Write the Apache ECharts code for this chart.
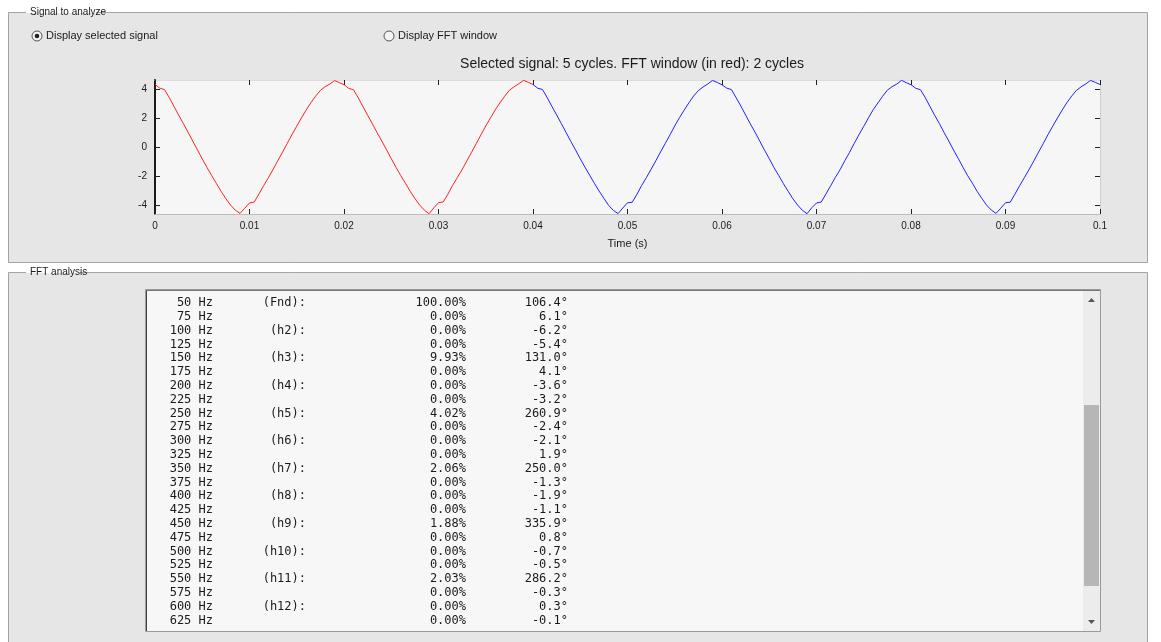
<!DOCTYPE html>
<html>
<head>
<meta charset="utf-8">
<script src="https://cdn.jsdelivr.net/npm/echarts@6/dist/echarts.min.js"></script>
<style>
  html, body { margin: 0; padding: 0; background: #ffffff; }
  #main { width: 1161px; height: 642px; }
</style>
</head>
<body>
<div id="main"></div>
<script>
// sampled signal, 0.5 ms step, 5 cycles of 50 Hz (0 .. 0.1 s)
const sampleStep = 0.0005;
const signal = [
  4.32, 4.06, 3.96, 3.42, 2.81, 2.20, 1.62, 1.01, 0.40, -0.21, -0.82, -1.41, -1.97, -2.52, -3.06, -3.56, -4.01, -4.36, -4.58, -4.22,
  -3.86, -3.80, -3.24, -2.66, -2.12, -1.54, -0.94, -0.35, 0.26, 0.86, 1.44, 2.01, 2.55, 3.06, 3.51, 3.90, 4.16, 4.34, 4.58, 4.44,
  4.30, 4.04, 3.95, 3.40, 2.79, 2.19, 1.60, 0.99, 0.41, -0.19, -0.80, -1.40, -1.96, -2.50, -3.05, -3.55, -4.00, -4.35, -4.60, -4.20,
  -3.84, -3.79, -3.25, -2.64, -2.10, -1.55, -0.96, -0.36, 0.24, 0.85, 1.45, 2.00, 2.56, 3.04, 3.50, 3.91, 4.15, 4.36, 4.60, 4.46,
  4.31, 4.05, 3.97, 3.41, 2.80, 2.21, 1.61, 1.00, 0.39, -0.20, -0.81, -1.39, -1.95, -2.51, -3.04, -3.54, -4.02, -4.37, -4.59, -4.21,
  -3.85, -3.81, -3.26, -2.65, -2.11, -1.53, -0.95, -0.34, 0.25, 0.84, 1.46, 2.02, 2.54, 3.05, 3.52, 3.89, 4.14, 4.35, 4.59, 4.45,
  4.29, 4.06, 3.96, 3.39, 2.82, 2.20, 1.59, 1.02, 0.40, -0.22, -0.80, -1.42, -1.96, -2.53, -3.05, -3.57, -4.00, -4.36, -4.60, -4.19,
  -3.86, -3.80, -3.24, -2.67, -2.09, -1.56, -0.94, -0.37, 0.26, 0.85, 1.43, 2.01, 2.57, 3.04, 3.50, 3.92, 4.16, 4.34, 4.60, 4.43,
  4.30, 4.05, 3.95, 3.42, 2.80, 2.19, 1.62, 1.00, 0.41, -0.21, -0.79, -1.40, -1.98, -2.50, -3.06, -3.55, -4.01, -4.35, -4.58, -4.22,
  -3.84, -3.81, -3.25, -2.66, -2.11, -1.54, -0.96, -0.35, 0.24, 0.86, 1.44, 2.00, 2.55, 3.06, 3.51, 3.90, 4.15, 4.35, 4.59, 4.46,
  4.31
];
const fftWindowEnd = 0.04; // first 2 cycles drawn in red
const yTicks = [-4, -2, 0, 2, 4];

// FFT listing
const freqs = [50, 75, 100, 125, 150, 175, 200, 225, 250, 275, 300, 325, 350, 375, 400, 425, 450, 475, 500, 525, 550, 575, 600, 625];
const harmLabels = ['(Fnd):', '', '(h2):', '', '(h3):', '', '(h4):', '', '(h5):', '', '(h6):', '', '(h7):', '', '(h8):', '', '(h9):', '', '(h10):', '', '(h11):', '', '(h12):', ''];
const magnitudes = [100.00, 0.00, 0.00, 0.00, 9.93, 0.00, 0.00, 0.00, 4.02, 0.00, 0.00, 0.00, 2.06, 0.00, 0.00, 0.00, 1.88, 0.00, 0.00, 0.00, 2.03, 0.00, 0.00, 0.00];
const phases = [106.4, 6.1, -6.2, -5.4, 131.0, 4.1, -3.6, -3.2, 260.9, -2.4, -2.1, 1.9, 250.0, -1.3, -1.9, -1.1, 335.9, 0.8, -0.7, -0.5, 286.2, -0.3, 0.3, -0.1];

const redData = [];
const blueData = [];
signal.forEach((v, i) => {
  const t = +(i * sampleStep).toFixed(4);
  if (t <= fftWindowEnd) redData.push([t, v]);
  if (t >= fftWindowEnd) blueData.push([t, v]);
});

const uiFont = '"Liberation Sans", "DejaVu Sans", sans-serif';
const monoFont = '"DejaVu Sans Mono", "Liberation Mono", monospace';
const panelBg = '#e6e6e6';

const graphics = [
  // top panel
  { type: 'rect', z: -20, shape: { x: 8.5, y: 12.5, width: 1139, height: 250 }, style: { fill: panelBg, stroke: '#a3a3a3', lineWidth: 1 } },
  { type: 'rect', z: -19, shape: { x: 26, y: 6, width: 70, height: 12 }, style: { fill: '#ffffff' } },
  { type: 'rect', z: -19, shape: { x: 26, y: 13, width: 70, height: 5 }, style: { fill: panelBg } },
  { type: 'text', z: 10, x: 30, y: 12, style: { text: 'Signal to analyze', font: '10px ' + uiFont, fill: '#1a1a1a', verticalAlign: 'middle' } },
  // radio buttons
  { type: 'circle', z: 10, shape: { cx: 37, cy: 36, r: 5 }, style: { fill: '#f4f4f4', stroke: '#555', lineWidth: 1 } },
  { type: 'circle', z: 11, shape: { cx: 37, cy: 36, r: 2.3 }, style: { fill: '#222' } },
  { type: 'text', z: 10, x: 46, y: 36, style: { text: 'Display selected signal', font: '11px ' + uiFont, fill: '#1a1a1a', verticalAlign: 'middle' } },
  { type: 'circle', z: 10, shape: { cx: 389, cy: 36, r: 5 }, style: { fill: '#f4f4f4', stroke: '#555', lineWidth: 1 } },
  { type: 'text', z: 10, x: 398, y: 36, style: { text: 'Display FFT window', font: '11px ' + uiFont, fill: '#1a1a1a', verticalAlign: 'middle' } },
  // plot title
  { type: 'text', z: 10, x: 632, y: 64, style: { text: 'Selected signal: 5 cycles. FFT window (in red): 2 cycles', font: '14px ' + uiFont, fill: '#1a1a1a', align: 'center', verticalAlign: 'middle' } },
  // bottom panel
  { type: 'rect', z: -20, shape: { x: 8.5, y: 272.5, width: 1139, height: 380 }, style: { fill: panelBg, stroke: '#a3a3a3', lineWidth: 1 } },
  { type: 'rect', z: -19, shape: { x: 26, y: 266, width: 54, height: 12 }, style: { fill: '#ffffff' } },
  { type: 'rect', z: -19, shape: { x: 26, y: 273, width: 54, height: 5 }, style: { fill: panelBg } },
  { type: 'text', z: 10, x: 30, y: 272, style: { text: 'FFT analysis', font: '10px ' + uiFont, fill: '#1a1a1a', verticalAlign: 'middle' } },
  // listbox
  { type: 'rect', z: 1, shape: { x: 145.5, y: 289.5, width: 955, height: 342 }, style: { fill: '#f7f7f7', stroke: '#9a9a9a', lineWidth: 1 } },
  { type: 'line', z: 2, shape: { x1: 146.5, y1: 290, x2: 146.5, y2: 631 }, style: { stroke: '#444', lineWidth: 1 } },
  { type: 'line', z: 2, shape: { x1: 146, y1: 290.5, x2: 1100, y2: 290.5 }, style: { stroke: '#777', lineWidth: 1 } },
  // scrollbar
  { type: 'rect', z: 2, shape: { x: 1083, y: 291, width: 17, height: 340 }, style: { fill: '#ececec' } },
  { type: 'rect', z: 3, shape: { x: 1084, y: 405, width: 15, height: 181 }, style: { fill: '#b6b6b6' } },
  { type: 'polygon', z: 3, shape: { points: [[1088, 302], [1091.5, 298], [1095, 302]] }, style: { fill: '#555' } },
  { type: 'polygon', z: 3, shape: { points: [[1088, 620], [1091.5, 624], [1095, 620]] }, style: { fill: '#555' } }
];

const rowY0 = 303;
const rowStep = 13.8;
freqs.forEach((f, i) => {
  const y = rowY0 + i * rowStep;
  const base = { font: '12px ' + monoFont, fill: '#1a1a1a', verticalAlign: 'middle', align: 'right' };
  graphics.push({ type: 'text', z: 5, x: 213, y, style: Object.assign({ text: f + ' Hz' }, base) });
  if (harmLabels[i]) graphics.push({ type: 'text', z: 5, x: 306, y, style: Object.assign({ text: harmLabels[i] }, base) });
  graphics.push({ type: 'text', z: 5, x: 466, y, style: Object.assign({ text: magnitudes[i].toFixed(2) + '%' }, base) });
  graphics.push({ type: 'text', z: 5, x: 568, y, style: Object.assign({ text: phases[i].toFixed(1) + '°' }, base) });
});

const tickStyle = { show: true, inside: true, length: 5, lineStyle: { color: '#222', width: 1 } };

const option = {
  animation: false,
  backgroundColor: 'transparent',
  grid: {
    left: 155, right: 61, top: 80, bottom: 428,
    show: true, backgroundColor: '#f6f6f6', borderWidth: 0
  },
  xAxis: [
    {
      type: 'value', position: 'bottom', min: 0, max: 0.1, interval: 0.01,
      axisLine: { show: true, onZero: false, lineStyle: { color: '#bdbdbd', width: 1 } },
      axisTick: tickStyle,
      splitLine: { show: false },
      axisLabel: {
        color: '#1a1a1a', fontSize: 10, fontFamily: uiFont, margin: 7,
        formatter: v => String(+v.toFixed(2))
      },
      name: 'Time (s)', nameLocation: 'middle', nameGap: 24,
      nameTextStyle: { color: '#1a1a1a', fontSize: 11, fontFamily: uiFont }
    },
    {
      type: 'value', position: 'top', min: 0, max: 0.1, interval: 0.01,
      axisLine: { show: true, onZero: false, lineStyle: { color: '#dddddd', width: 1 } },
      axisTick: tickStyle, axisLabel: { show: false }, splitLine: { show: false }
    }
  ],
  yAxis: [
    {
      type: 'value', position: 'left', min: -4.62, max: 4.62,
      axisLine: { show: true, onZero: false, lineStyle: { color: '#1a1a1a', width: 2 } },
      axisTick: Object.assign({}, tickStyle, { customValues: yTicks }),
      axisLabel: { color: '#1a1a1a', fontSize: 10, fontFamily: uiFont, margin: 8, customValues: yTicks },
      splitLine: { show: false }
    },
    {
      type: 'value', position: 'right', min: -4.62, max: 4.62,
      axisLine: { show: true, onZero: false, lineStyle: { color: '#cfcfcf', width: 1 } },
      axisTick: Object.assign({}, tickStyle, { customValues: yTicks }),
      axisLabel: { show: false }, splitLine: { show: false }
    }
  ],
  series: [
    {
      name: 'FFT window', type: 'line', data: redData, showSymbol: false,
      lineStyle: { color: '#ff2020', width: 1 }, z: 3
    },
    {
      name: 'Selected signal', type: 'line', data: blueData, showSymbol: false,
      lineStyle: { color: '#2020ff', width: 1 }, z: 3
    }
  ],
  graphic: { elements: graphics }
};

const chart = echarts.init(document.getElementById('main'));
chart.setOption(option);
</script>
</body>
</html>
